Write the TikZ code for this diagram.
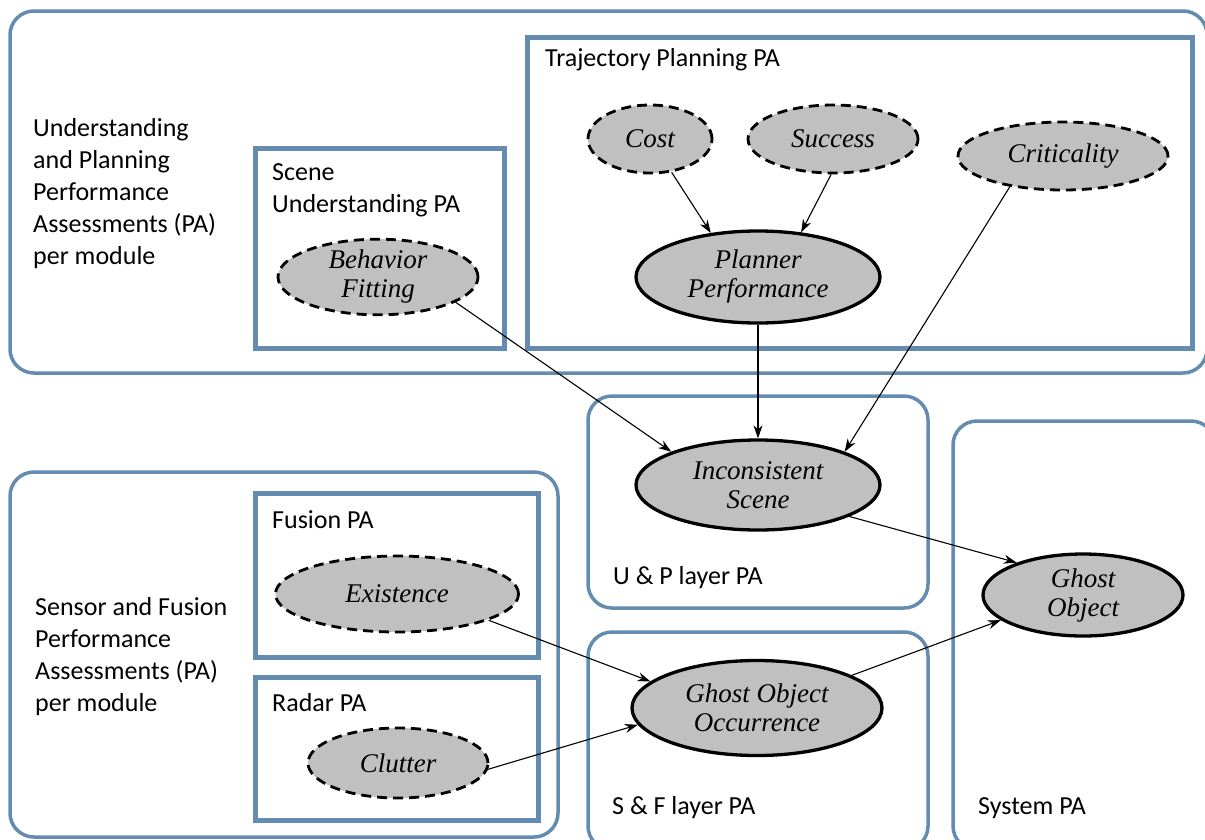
\documentclass[tikz,border=0pt]{standalone}
\usepackage{fontspec}
\setmainfont{Liberation Serif}
\newfontfamily\labelfont{Carlito}
\usetikzlibrary{shapes.geometric,arrows.meta}
\definecolor{frameblue}{RGB}{100,140,176}
\definecolor{nodegrey}{RGB}{192,192,192}

\begin{document}
\begin{tikzpicture}[x=1pt,y=-1pt,
  layerbox/.style={draw=frameblue, line width=3.5pt, rounded corners=24pt},
  modbox/.style={draw=frameblue, line width=5pt},
  lbl/.style={font=\labelfont\fontsize{26}{32}\selectfont, anchor=west, align=left, inner sep=0pt},
  var/.style={ellipse, fill=nodegrey, draw=black, inner sep=0pt, align=center,
              font=\itshape\fontsize{27}{29}\selectfont},
  latent/.style={var, line width=2.8pt, dash pattern=on 10pt off 6pt},
  observed/.style={var, line width=3.3pt},
  link/.style={-{Stealth[length=13pt,width=9pt]}, line width=1.1pt}
]
\useasboundingbox (0,0) rectangle (1205,839);

% layer and module frames
\draw[layerbox] (10,11) rectangle (1207,373);
\draw[modbox] (527,37) rectangle (1192,348);
\draw[modbox] (255,148) rectangle (504,348);
\draw[layerbox] (588,396) rectangle (928,608);
\draw[layerbox] (588,632) rectangle (928,850);
\draw[layerbox] (953,421) rectangle (1215,850);
\draw[layerbox] (10,472) rectangle (558,837);
\draw[modbox] (255,493) rectangle (538,657);
\draw[modbox] (255,677) rectangle (538,820);

% frame labels
\node[lbl] (uplbl) at (33,194) {Understanding\\and Planning\\Performance\\Assessments (PA)\\per module};
\node[lbl] (trajlbl) at (545,60) {Trajectory Planning PA};
\node[lbl] (scenelbl) at (272,190) {Scene\\Understanding PA};
\node[lbl] (uplayer) at (613,578) {U \& P layer PA};
\node[lbl] (sflayer) at (612,808) {S \& F layer PA};
\node[lbl] (syslbl) at (978,808) {System PA};
\node[lbl] (sflbl) at (35,657) {Sensor and Fusion\\Performance\\Assessments (PA)\\per module};
\node[lbl] (fuslbl) at (272,520) {Fusion PA};
\node[lbl] (radlbl) at (272,703) {Radar PA};

% variables
\node[latent, minimum width=124pt, minimum height=68pt] (cost) at (650,139) {Cost};
\node[latent, minimum width=170pt, minimum height=68pt] (succ) at (833,139) {Success};
\node[latent, minimum width=210pt, minimum height=68pt] (crit) at (1063,156) {Criticality};
\node[observed, minimum width=244pt, minimum height=92pt] (plan) at (758,277) {Planner\\Performance};
\node[latent, minimum width=200pt, minimum height=72pt] (beh) at (378,277) {Behavior\\Fitting};
\node[observed, minimum width=244pt, minimum height=90pt] (inc) at (758,485) {Inconsistent\\Scene};
\node[observed, minimum width=200pt, minimum height=82pt] (ghost) at (1083,595) {Ghost\\Object};
\node[observed, minimum width=250pt, minimum height=95pt] (goo) at (757,708) {Ghost Object\\Occurrence};
\node[latent, minimum width=243pt, minimum height=76pt] (exist) at (397,594) {Existence};
\node[latent, minimum width=180pt, minimum height=70pt] (clut) at (398,763) {Clutter};

% dependencies
\draw[link] (cost.-57) -- (plan.137);
\draw[link] (succ.-93) -- (plan.46);
\draw[link] (beh.-18) -- (inc.159);
\draw[link] (plan) -- (inc);
\draw[link] (crit.-150) -- (inc.21);
\draw[link] (inc.-19) -- (ghost.154);
\draw[link] (exist.-16) -- (goo.166);
\draw[link] (clut.-4) -- (goo.-172);
\draw[link] (goo.19) -- (ghost.-163);
\end{tikzpicture}
\end{document}
